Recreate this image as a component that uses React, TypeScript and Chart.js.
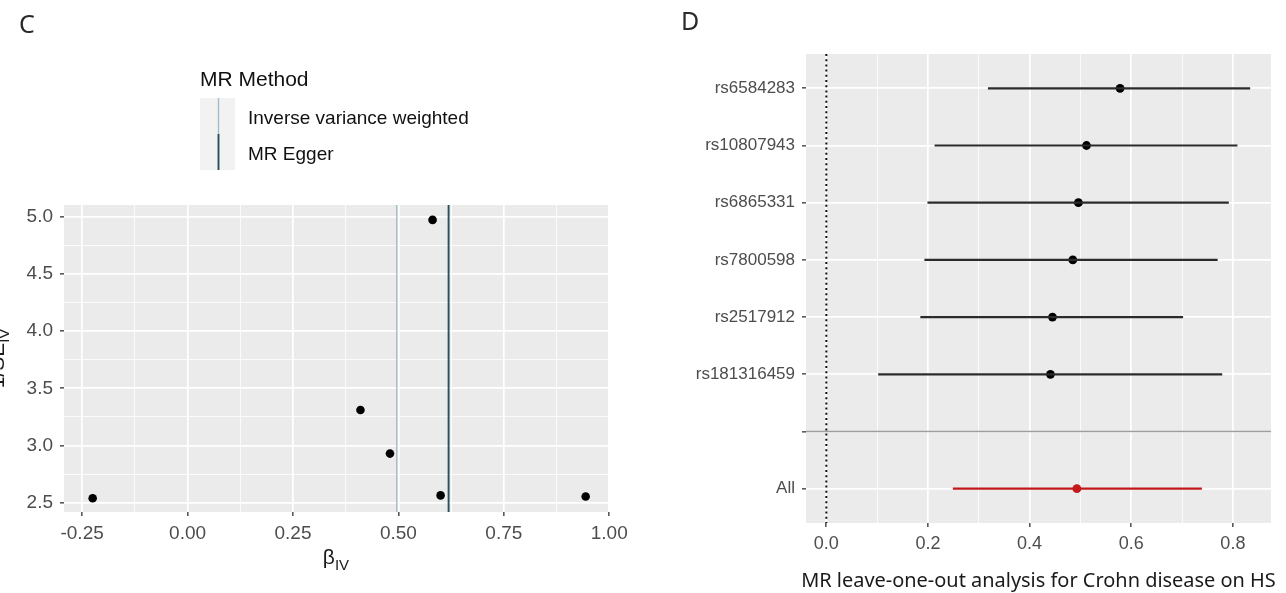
import React, { useEffect, useRef } from 'react';
import { Chart, registerables } from 'chart.js';

Chart.register(...registerables);

// ---------- Panel C: funnel plot ----------
const funnelBeta = [-0.225, 0.41, 0.48, 0.581, 0.6, 0.944];
const funnelInvSE = [2.54, 3.31, 2.93, 4.97, 2.565, 2.555];
const methodNames = ['Inverse variance weighted', 'MR Egger'];
const methodEstimates = [0.496, 0.619];
const funnelXTicks = [-0.25, 0, 0.25, 0.5, 0.75, 1.0];
const funnelYTicks = [2.5, 3.0, 3.5, 4.0, 4.5, 5.0];

// ---------- Panel D: leave-one-out ----------
const looLabels = ['rs6584283', 'rs10807943', 'rs6865331', 'rs7800598', 'rs2517912', 'rs181316459', '', 'All'];
const looEstimate = [0.578, 0.512, 0.496, 0.485, 0.445, 0.441, null, 0.493];
const looLower = [0.318, 0.213, 0.199, 0.193, 0.185, 0.102, null, 0.249];
const looUpper = [0.834, 0.809, 0.792, 0.77, 0.702, 0.779, null, 0.739];
const looXTicks = [0, 0.2, 0.4, 0.6, 0.8];
const looNullEffect = 0;
const looSeparatorRow = 7;
const looTitle = 'MR leave-one-out analysis for Crohn disease on HS';

// ---------- styles ----------
const methodColors = ['#a3bccb', '#26505a'];
const methodWidths = [1.4, 1.9];
const panelBg = '#ebebeb';
const tickMarkColor = '#333333';
const tickTextColor = '#4d4d4d';
const ggFont = "'Liberation Sans', Arial, sans-serif";
const labelFont = "'Noto Sans', 'Open Sans', sans-serif";
const allColor = '#c4181c';

function withMinors(majors: number[]): number[] {
  const out: number[] = [];
  majors.forEach((m, i) => {
    out.push(m);
    if (i < majors.length - 1) out.push((m + majors[i + 1]) / 2);
  });
  return out;
}
const isIn = (arr: number[], v: number) => arr.some((a) => Math.abs(a - v) < 1e-9);

function fillBg(chart: any) {
  const { ctx, chartArea: a } = chart;
  ctx.save();
  ctx.fillStyle = panelBg;
  ctx.fillRect(a.left, a.top, a.right - a.left, a.bottom - a.top);
  ctx.restore();
}

function FunnelPanel() {
  const ref = useRef<HTMLCanvasElement>(null);
  useEffect(() => {
    if (!ref.current) return;
    const xAll = withMinors(funnelXTicks);
    const yAll = withMinors(funnelYTicks);
    const decor = {
      id: 'funnelDecor',
      beforeDraw(chart: any) {
        fillBg(chart);
      },
      beforeDatasetsDraw(chart: any) {
        const { ctx, chartArea: a, scales } = chart;
        ctx.save();
        methodEstimates.forEach((b, i) => {
          const px = scales.x.getPixelForValue(b);
          ctx.strokeStyle = methodColors[i];
          ctx.lineWidth = methodWidths[i];
          ctx.beginPath();
          ctx.moveTo(px, a.top);
          ctx.lineTo(px, a.bottom);
          ctx.stroke();
        });
        ctx.restore();
      },
      afterDraw(chart: any) {
        const { ctx, chartArea: a } = chart;
        ctx.save();
        // panel letter
        ctx.fillStyle = '#2a2a2a';
        ctx.font = `25px ${labelFont}`;
        ctx.textBaseline = 'alphabetic';
        ctx.textAlign = 'left';
        ctx.fillText('C', 19, 33);

        // x-axis title  beta_IV
        const cx = (a.left + a.right) / 2;
        ctx.fillStyle = '#1a1a1a';
        ctx.font = `21px ${ggFont}`;
        const wB = ctx.measureText('β').width;
        ctx.font = `15px ${ggFont}`;
        const wIV = ctx.measureText('IV').width;
        const sx = cx - (wB + wIV) / 2;
        ctx.font = `21px ${ggFont}`;
        ctx.fillText('β', sx, 564);
        ctx.font = `15px ${ggFont}`;
        ctx.fillText('IV', sx + wB, 570);

        // y-axis title 1/SE_IV (clipped at left edge)
        const cy = (a.top + a.bottom) / 2;
        ctx.font = `21px ${ggFont}`;
        const w1 = ctx.measureText('1/SE').width;
        ctx.font = `15px ${ggFont}`;
        const w2 = ctx.measureText('IV').width;
        ctx.translate(4, cy);
        ctx.rotate(-Math.PI / 2);
        ctx.font = `21px ${ggFont}`;
        ctx.fillText('1/SE', -(w1 + w2) / 2, 0);
        ctx.font = `15px ${ggFont}`;
        ctx.fillText('IV', -(w1 + w2) / 2 + w1, 5);
        ctx.restore();

        // legend
        ctx.save();
        const lx = 200;
        ctx.fillStyle = '#111';
        ctx.font = `21px ${ggFont}`;
        ctx.textBaseline = 'middle';
        ctx.fillText('MR Method', lx, 80);
        const keyTop = 98;
        const keyH = 36;
        const keyW = 35;
        methodNames.forEach((name, i) => {
          const ky = keyTop + i * keyH;
          ctx.fillStyle = '#f2f2f2';
          ctx.fillRect(lx, ky, keyW, keyH);
          ctx.strokeStyle = methodColors[i];
          ctx.lineWidth = methodWidths[i];
          ctx.beginPath();
          ctx.moveTo(lx + keyW / 2 + 1, ky);
          ctx.lineTo(lx + keyW / 2 + 1, ky + keyH);
          ctx.stroke();
          ctx.fillStyle = '#111';
          ctx.font = `19px ${ggFont}`;
          ctx.fillText(name, lx + 48, ky + keyH / 2 + 3);
        });
        ctx.restore();
      },
    };

    const chart = new Chart(ref.current, {
      type: 'scatter',
      data: {
        datasets: [
          {
            data: funnelBeta.map((b, i) => ({ x: b, y: funnelInvSE[i] })),
            pointRadius: 4.3,
            pointBackgroundColor: '#000',
            pointBorderWidth: 0,
            borderWidth: 0,
          },
        ],
      },
      options: {
        responsive: false,
        animation: false,
        devicePixelRatio: 1,
        events: [],
        layout: { padding: { top: 205, right: 32, left: 0, bottom: 0 } },
        plugins: { legend: { display: false }, tooltip: { enabled: false } },
        scales: {
          x: {
            type: 'linear',
            min: -0.293,
            max: 0.997,
            afterBuildTicks: (s: any) => {
              s.ticks = xAll.map((v) => ({ value: v }));
            },
            afterFit: (s: any) => {
              s.height = 81;
            },
            border: { display: false },
            grid: {
              color: '#ffffff',
              lineWidth: (c: any) => (c.tick && isIn(funnelXTicks, c.tick.value) ? 1.7 : 0.8),
              tickColor: (c: any) => (c.tick && isIn(funnelXTicks, c.tick.value) ? tickMarkColor : 'rgba(0,0,0,0)'),
              tickWidth: 1.3,
              tickLength: 4,
              drawTicks: true,
            },
            ticks: {
              autoSkip: false,
              maxRotation: 0,
              minRotation: 0,
              padding: 6,
              color: tickTextColor,
              font: { family: ggFont, size: 19 },
              callback: (v: any) => (isIn(funnelXTicks, Number(v)) ? Number(v).toFixed(2) : ''),
            },
          },
          y: {
            type: 'linear',
            min: 2.42,
            max: 5.1,
            afterBuildTicks: (s: any) => {
              s.ticks = yAll.map((v) => ({ value: v }));
            },
            afterFit: (s: any) => {
              s.width = 64;
            },
            border: { display: false },
            grid: {
              color: '#ffffff',
              lineWidth: (c: any) => (c.tick && isIn(funnelYTicks, c.tick.value) ? 1.7 : 0.8),
              tickColor: (c: any) => (c.tick && isIn(funnelYTicks, c.tick.value) ? tickMarkColor : 'rgba(0,0,0,0)'),
              tickWidth: 1.3,
              tickLength: 4,
              drawTicks: true,
            },
            ticks: {
              autoSkip: false,
              padding: 7,
              color: tickTextColor,
              font: { family: ggFont, size: 19 },
              callback: (v: any) => (isIn(funnelYTicks, Number(v)) ? Number(v).toFixed(1) : ''),
            },
          },
        },
      },
      plugins: [decor],
    } as any);
    return () => chart.destroy();
  }, []);
  return (
    <canvas
      ref={ref}
      width={640}
      height={593}
      style={{ position: 'absolute', left: 0, top: 0, width: 640, height: 593 }}
    />
  );
}

function LeaveOneOutPanel() {
  const ref = useRef<HTMLCanvasElement>(null);
  useEffect(() => {
    if (!ref.current) return;
    const xAll = withMinors(looXTicks);
    const lastIdx = looLabels.length - 1;
    const barSets: any[] = [];
    looEstimate.forEach((e, i) => {
      if (e === null) return;
      barSets.push({
        type: 'line',
        data: [
          { x: looLower[i], y: i + 1 },
          { x: looUpper[i], y: i + 1 },
        ],
        borderColor: i === lastIdx ? allColor : '#2b2b2b',
        borderWidth: 2.2,
        pointRadius: 0,
        fill: false,
      });
    });
    const pts: any[] = [];
    const ptColors: string[] = [];
    looEstimate.forEach((e, i) => {
      if (e === null) return;
      pts.push({ x: e, y: i + 1 });
      ptColors.push(i === lastIdx ? allColor : '#000000');
    });

    const decor = {
      id: 'looDecor',
      beforeDraw(chart: any) {
        fillBg(chart);
      },
      beforeDatasetsDraw(chart: any) {
        const { ctx, chartArea: a, scales } = chart;
        ctx.save();
        // separator row line
        const py = scales.y.getPixelForValue(looSeparatorRow);
        ctx.strokeStyle = '#9e9e9e';
        ctx.lineWidth = 1.3;
        ctx.beginPath();
        ctx.moveTo(a.left, py);
        ctx.lineTo(a.right, py);
        ctx.stroke();
        // dotted null line
        const px = scales.x.getPixelForValue(looNullEffect);
        ctx.strokeStyle = '#111';
        ctx.lineWidth = 2;
        ctx.setLineDash([2, 3.2]);
        ctx.beginPath();
        ctx.moveTo(px, a.top);
        ctx.lineTo(px, a.bottom);
        ctx.stroke();
        ctx.restore();
      },
      afterDraw(chart: any) {
        const { ctx, chartArea: a } = chart;
        ctx.save();
        ctx.fillStyle = '#2a2a2a';
        ctx.font = `25px ${labelFont}`;
        ctx.textBaseline = 'alphabetic';
        ctx.textAlign = 'left';
        ctx.fillText('D', 41, 30);

        // x-axis title
        ctx.fillStyle = '#1a1a1a';
        ctx.font = `19px ${labelFont}`;
        const w = ctx.measureText(looTitle).width;
        const size = (19 * 475) / w;
        ctx.font = `${size}px ${labelFont}`;
        ctx.textAlign = 'center';
        ctx.textBaseline = 'middle';
        ctx.fillText(looTitle, (a.left + a.right) / 2, 581);
        ctx.restore();
      },
    };

    const chart = new Chart(ref.current, {
      type: 'scatter',
      data: {
        datasets: [
          ...barSets,
          {
            type: 'scatter',
            data: pts,
            pointRadius: 4.4,
            pointBackgroundColor: ptColors,
            pointBorderWidth: 0,
            borderWidth: 0,
          },
        ],
      },
      options: {
        responsive: false,
        animation: false,
        devicePixelRatio: 1,
        events: [],
        layout: { padding: { top: 54, right: 15, left: 0, bottom: 0 } },
        plugins: { legend: { display: false }, tooltip: { enabled: false } },
        scales: {
          x: {
            type: 'linear',
            min: -0.04,
            max: 0.875,
            afterBuildTicks: (s: any) => {
              s.ticks = xAll.map((v) => ({ value: v }));
            },
            afterFit: (s: any) => {
              s.height = 70;
            },
            border: { display: false },
            grid: {
              color: '#ffffff',
              lineWidth: (c: any) => (c.tick && isIn(looXTicks, c.tick.value) ? 1.7 : 0.8),
              tickColor: (c: any) => (c.tick && isIn(looXTicks, c.tick.value) ? tickMarkColor : 'rgba(0,0,0,0)'),
              tickWidth: 1.3,
              tickLength: 4,
              drawTicks: true,
            },
            ticks: {
              autoSkip: false,
              maxRotation: 0,
              minRotation: 0,
              padding: 6,
              color: tickTextColor,
              font: { family: ggFont, size: 18 },
              callback: (v: any) => (isIn(looXTicks, Number(v)) ? Number(v).toFixed(1) : ''),
            },
          },
          y: {
            type: 'linear',
            reverse: true,
            min: 0.4,
            max: looLabels.length + 0.6,
            afterBuildTicks: (s: any) => {
              s.ticks = looLabels.map((_, i) => ({ value: i + 1 }));
            },
            afterFit: (s: any) => {
              s.width = 166;
            },
            border: { display: false },
            grid: {
              color: '#ffffff',
              lineWidth: 1.7,
              tickColor: tickMarkColor,
              tickWidth: 1.3,
              tickLength: 4,
              drawTicks: true,
            },
            ticks: {
              autoSkip: false,
              padding: 7,
              color: tickTextColor,
              font: { family: ggFont, size: 17 },
              callback: (v: any) => looLabels[Math.round(Number(v)) - 1] ?? '',
            },
          },
        },
      },
      plugins: [decor],
    } as any);
    return () => chart.destroy();
  }, []);
  return (
    <canvas
      ref={ref}
      width={646}
      height={593}
      style={{ position: 'absolute', left: 640, top: 0, width: 646, height: 593 }}
    />
  );
}

export default function App() {
  return (
    <div
      style={{
        position: 'fixed',
        left: 0,
        top: 0,
        width: 1286,
        height: 593,
        background: '#ffffff',
        overflow: 'hidden',
      }}
    >
      <FunnelPanel />
      <LeaveOneOutPanel />
    </div>
  );
}
